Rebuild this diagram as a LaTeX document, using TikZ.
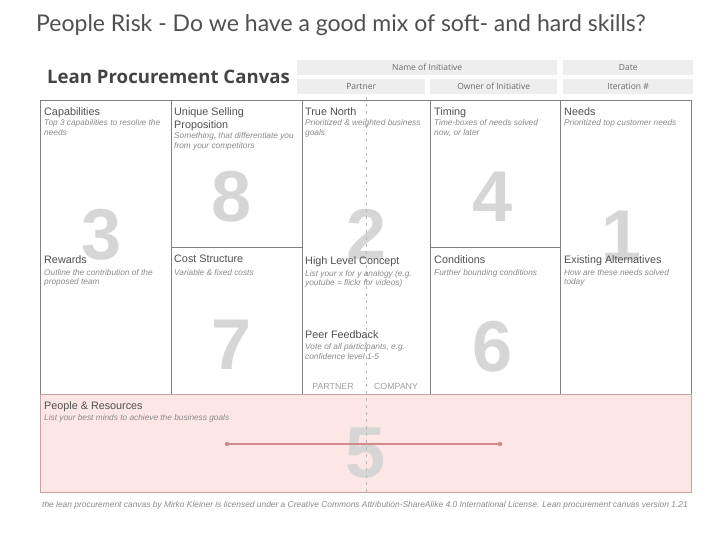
\documentclass[tikz,border=0pt]{standalone}
\usepackage{fontspec}
\setmainfont{Liberation Sans}
\newfontfamily\titlefont{Lato}
\newfontfamily\headfont{Open Sans}
\definecolor{frame}{HTML}{808080}
\definecolor{lbl}{HTML}{505050}
\definecolor{desc}{HTML}{8A8A8A}
\definecolor{bignum}{HTML}{D6D6D6}
\definecolor{pinkfill}{HTML}{FDE6E6}
\definecolor{pinkline}{HTML}{C9A3A3}
\definecolor{redline}{HTML}{D48A8A}
\definecolor{hdrfill}{HTML}{EEEEEE}
\definecolor{hdrtext}{HTML}{6A6A6A}
\tikzset{
  lblnode/.style={anchor=north west,yshift=8pt,inner sep=0pt,text=lbl,font=\fontsize{10.8}{13}\selectfont,align=left},
  descnode/.style={anchor=north west,yshift=5pt,inner sep=0pt,text=desc,font=\fontsize{8.3}{9.3}\selectfont\itshape,align=left},
  numnode/.style={inner sep=0pt,text=bignum,font=\fontsize{72}{72}\selectfont\bfseries},
  hdrbox/.style={fill=hdrfill,draw=none,inner sep=0pt,text=hdrtext,font=\headfont\fontsize{8.5}{10}\selectfont},
  gridline/.style={draw=frame,line width=0.9pt},
  caps/.style={anchor=base,inner sep=0pt,text=desc!80,font=\fontsize{8.8}{10}\selectfont},
}
\begin{document}
\begin{tikzpicture}[x=1pt,y=-1pt]
\useasboundingbox (0,0) rectangle (720,540);
\fill[white] (0,0) rectangle (720,540);
% title
\node[anchor=base west,inner sep=0pt,text=lbl,font=\titlefont\fontsize{23}{26}\selectfont] (title) at (36,32) {People Risk - Do we have a good mix of soft- and hard skills?};
\node[anchor=base west,inner sep=0pt,text=lbl!85!black,font=\headfont\fontsize{18.6}{22}\selectfont\bfseries] (canvasname) at (47,84) {Lean Procurement Canvas};
% header boxes
\node[hdrbox,minimum width=260pt,minimum height=15pt,anchor=north west] (noi) at (297,60) {Name of Initiative};
\node[hdrbox,minimum width=130pt,minimum height=15pt,anchor=north west] (date) at (563,60) {Date};
\node[hdrbox,minimum width=128pt,minimum height=15pt,anchor=north west] (partner) at (297,79) {Partner};
\node[hdrbox,minimum width=127pt,minimum height=15pt,anchor=north west] (owner) at (430,79) {Owner of Initiative};
\node[hdrbox,minimum width=130pt,minimum height=15pt,anchor=north west] (iter) at (563,79) {Iteration \#};
% pink area
\fill[pinkfill] (40,394) rectangle (691,492);
% big numbers
\node[numnode] (n3) at (102,235) {3};
\node[numnode] (n8) at (232,197) {8};
\node[numnode] (n2) at (367,234) {2};
\node[numnode] (n4) at (493,197) {4};
\node[numnode] (n1) at (622,236) {1};
\node[numnode] (n7) at (232,345) {7};
\node[numnode] (n6) at (493,347) {6};
\node[numnode] (n5) at (366,453) {5};
% grid
\draw[gridline] (40,100) rectangle (691,394);
\draw[gridline] (171,100) -- (171,394);
\draw[gridline] (302,100) -- (302,394);
\draw[gridline] (430,100) -- (430,394);
\draw[gridline] (560,100) -- (560,394);
\draw[gridline] (171,247) -- (302,247);
\draw[gridline] (430,247) -- (560,247);
\draw[draw=pinkline,line width=1pt] (40,394) rectangle (691,492);
% dashed divider
\draw[draw=frame!55,line width=0.8pt,dash pattern=on 3pt off 4pt] (366,97) -- (366,492);
% red line
\coordinate (rl) at (227,444);
\coordinate (rr) at (500,444);
\draw[draw=redline,line width=1.3pt] (rl) -- (rr);
\fill[redline] (rl) circle (2.2pt);
\fill[redline] (rr) circle (2.2pt);
% labels (coordinates are first-line baselines)
\node[lblnode] (cap) at (44,115) {Capabilities};
\node[descnode] (capd) at (44,124.5) {Top 3 capabilities to resolve the\\needs};
\node[lblnode] (usp) at (174,115) {Unique Selling\\Proposition};
\node[descnode] (uspd) at (174,137.5) {Something, that differentiate you\\from your competitors};
\node[lblnode] (tn) at (305,115) {True North};
\node[descnode] (tnd) at (305,124.5) {Prioritized \& weighted business\\goals};
\node[lblnode] (tim) at (434,115) {Timing};
\node[descnode] (timd) at (434,124.5) {Time-boxes of needs solved\\now, or later};
\node[lblnode] (need) at (564,115) {Needs};
\node[descnode] (needd) at (564,124.5) {Prioritized top customer needs};
\node[lblnode] (rew) at (44,263) {Rewards};
\node[descnode] (rewd) at (44,274) {Outline the contribution of the\\proposed team};
\node[lblnode] (cost) at (174,263) {Cost Structure};
\node[descnode] (costd) at (174,274) {Variable \& fixed costs};
\node[lblnode] (hlc) at (305,264) {High Level Concept};
\node[descnode] (hlcd) at (305,275) {List your x for y analogy (e.g.\\youtube = flickr for videos)};
\node[lblnode] (cond) at (434,263) {Conditions};
\node[descnode] (condd) at (434,274) {Further bounding conditions};
\node[lblnode] (ea) at (564,263) {Existing Alternatives};
\node[descnode] (ead) at (564,274) {How are these needs solved\\today};
\node[lblnode] (pf) at (305,338) {Peer Feedback};
\node[descnode] (pfd) at (305,348.5) {Vote of all participants, e.g.\\confidence level 1-5};
\node[caps] (ptn) at (333,389) {PARTNER};
\node[caps] (cmp) at (396,389) {COMPANY};
\node[lblnode] (pr) at (44,409) {People \& Resources};
\node[descnode] (prd) at (44,419) {List your best minds to achieve the business goals};
% footer
\node[anchor=base west,inner sep=0pt,text=desc,font=\fontsize{8.4}{9}\selectfont\itshape] (foot) at (42,507) {the lean procurement canvas by Mirko Kleiner is licensed under a Creative Commons Attribution-ShareAlike 4.0 International License. Lean procurement canvas version 1.21};
\end{tikzpicture}
\end{document}
